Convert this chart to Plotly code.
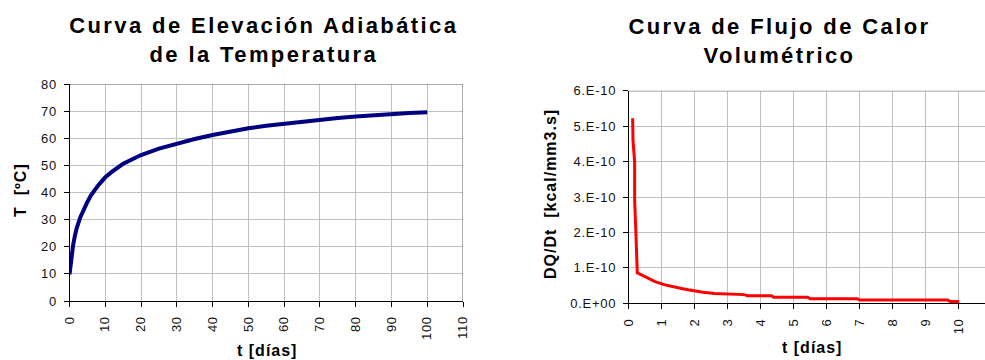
import plotly.graph_objects as go

# Adiabatic temperature rise: time [days] vs temperature [ºC]
t_temp = [0, 0.3, 0.6, 1, 1.5, 2, 3, 4, 5, 6, 7, 8, 10, 12, 15, 18, 20, 25, 30,
          35, 40, 45, 50, 55, 60, 65, 70, 75, 80, 85, 90, 95, 100]
temp_c = [9.8, 14.0, 17.5, 20.5, 24.0, 26.8, 30.8, 34.0, 36.5, 39.0, 41.0, 42.6,
          45.6, 47.8, 50.6, 52.6, 53.8, 56.2, 58.1, 59.7, 61.2, 62.5, 63.7, 64.6,
          65.4, 66.2, 66.9, 67.5, 68.0, 68.5, 68.9, 69.3, 69.6]

# Volumetric heat flow: time [days] vs DQ/Dt [kcal/mm3.s]
t_flow = [0.12, 0.13, 0.18, 0.18, 0.21, 0.22, 0.24, 0.26, 0.5, 0.8, 1.1, 1.4, 1.6,
          1.8, 2.0, 2.25, 2.6, 3.0, 3.5, 3.6, 4.33, 4.4, 5.43, 5.5, 6.93, 7.0,
          9.67, 9.75, 10.02]
flow = [5.22e-10, 4.6e-10, 4.0e-10, 2.9e-10, 2.2e-10, 1.5e-10, 1.4e-10, 0.86e-10,
        0.75e-10, 0.61e-10, 0.52e-10, 0.45e-10, 0.42e-10, 0.38e-10, 0.35e-10,
        0.31e-10, 0.28e-10, 0.26e-10, 0.245e-10, 0.215e-10, 0.21e-10, 0.17e-10,
        0.17e-10, 0.125e-10, 0.125e-10, 0.09e-10, 0.09e-10, 0.05e-10, 0.05e-10]

temp_ticks = list(range(0, 81, 10))
day_ticks_left = list(range(0, 111, 10))
day_ticks_right = list(range(0, 11))
flow_tickvals = [0, 1e-10, 2e-10, 3e-10, 4e-10, 5e-10, 6e-10]
flow_ticktext = ["0.E+00", "1.E-10", "2.E-10", "3.E-10", "4.E-10", "5.E-10", "6.E-10"]

FONT = "Liberation Sans, Arial, sans-serif"
W, H = 985, 360
GRID = "#c0c0c0"
FRAME = "#8c8c8c"

# plot-area rectangles in pixels (left, top, right, bottom)
left_box = (69.5, 84, 463, 301)
right_box = (628.7, 90.7, 985, 303.3)


def dom_x(box):
    return [box[0] / W, box[2] / W]


def dom_y(box):
    return [(H - box[3]) / H, (H - box[1]) / H]


fig = go.Figure()
fig.add_trace(go.Scatter(x=t_temp, y=temp_c, mode="lines", xaxis="x", yaxis="y",
                         line=dict(color="#000080", width=4), showlegend=False))
fig.add_trace(go.Scatter(x=t_flow, y=flow, mode="lines", xaxis="x2", yaxis="y2",
                         line=dict(color="#ff0000", width=3), showlegend=False))

tickfont = dict(family=FONT, size=13, color="#111111")
common = dict(showgrid=True, gridcolor=GRID, gridwidth=1, showline=True,
              linecolor="#000000", linewidth=1, ticks="outside", ticklen=5,
              tickcolor="#000000", tickwidth=1, zeroline=False, tickfont=tickfont,
              ticklabelstandoff=4, automargin=False)

fig.update_layout(
    width=W, height=H, margin=dict(l=0, r=0, t=0, b=0, pad=0, autoexpand=False),
    paper_bgcolor="white", plot_bgcolor="white",
    xaxis=dict(domain=dom_x(left_box), anchor="y", range=[0, 110],
               tickvals=day_ticks_left, tickangle=-90, **common),
    yaxis=dict(domain=dom_y(left_box), anchor="x", range=[0, 80],
               tickvals=temp_ticks, **common),
    xaxis2=dict(domain=dom_x(right_box), anchor="y2", range=[0, 10.8],
                tickvals=day_ticks_right, tickangle=-90, **common),
    yaxis2=dict(domain=dom_y(right_box), anchor="x2", range=[0, 6e-10],
                tickvals=flow_tickvals, ticktext=flow_ticktext, **common),
)

# gray plot-area border on the top and right sides
fig.add_shape(type="line", xref="x", yref="y", x0=0, x1=110, y0=80, y1=80,
              line=dict(color=FRAME, width=1.5), layer="between")
fig.add_shape(type="line", xref="x", yref="y", x0=110, x1=110, y0=0, y1=80,
              line=dict(color=FRAME, width=1.5), layer="between")
fig.add_shape(type="line", xref="x2", yref="y2", x0=0, x1=10.8, y0=6e-10, y1=6e-10,
              line=dict(color=FRAME, width=1.5), layer="between")

title_font = dict(family=FONT, size=22, color="#000000", weight="bold")
axis_font = dict(family=FONT, size=16, color="#000000", weight="bold")


def px_x(v):
    return v / W


def px_y(v):
    return (H - v) / H


annotations = [
    dict(text="Curva de Elevación Adiabática<br>de la Temperatura",
         x=px_x(264), y=px_y(39.5), font=title_font),
    dict(text="Curva de Flujo de Calor<br>Volumétrico",
         x=px_x(779), y=px_y(40.5), font=title_font),
    dict(text="T  [ºC]", x=px_x(19.5), y=px_y(190), textangle=-90, font=axis_font),
    dict(text="DQ/Dt  [kcal/mm3.s]", x=px_x(549.5), y=px_y(194), textangle=-90,
         font=axis_font),
    dict(text="t [días]", x=px_x(266.5), y=px_y(350), font=axis_font),
    dict(text="t [días]", x=px_x(811.5), y=px_y(347), font=axis_font),
]
for a in annotations:
    fig.add_annotation(xref="paper", yref="paper", xanchor="center", yanchor="middle",
                       showarrow=False, **a)

# widen the tracking of the lettering, as in the original Excel-style charts
post = """
var gd = document.getElementById('{plot_id}');
function track() {
  gd.querySelectorAll('svg text').forEach(function (t) {
    var fs = parseFloat(t.style.fontSize || '0');
    var ls = fs >= 20 ? '2.4px' : (fs >= 15 ? '1px' : '0.7px');
    t.style.letterSpacing = ls;
  });
}
track();
if (gd.on) { gd.on('plotly_afterplot', track); }
"""

fig.write_html("out.html", post_script=post)
